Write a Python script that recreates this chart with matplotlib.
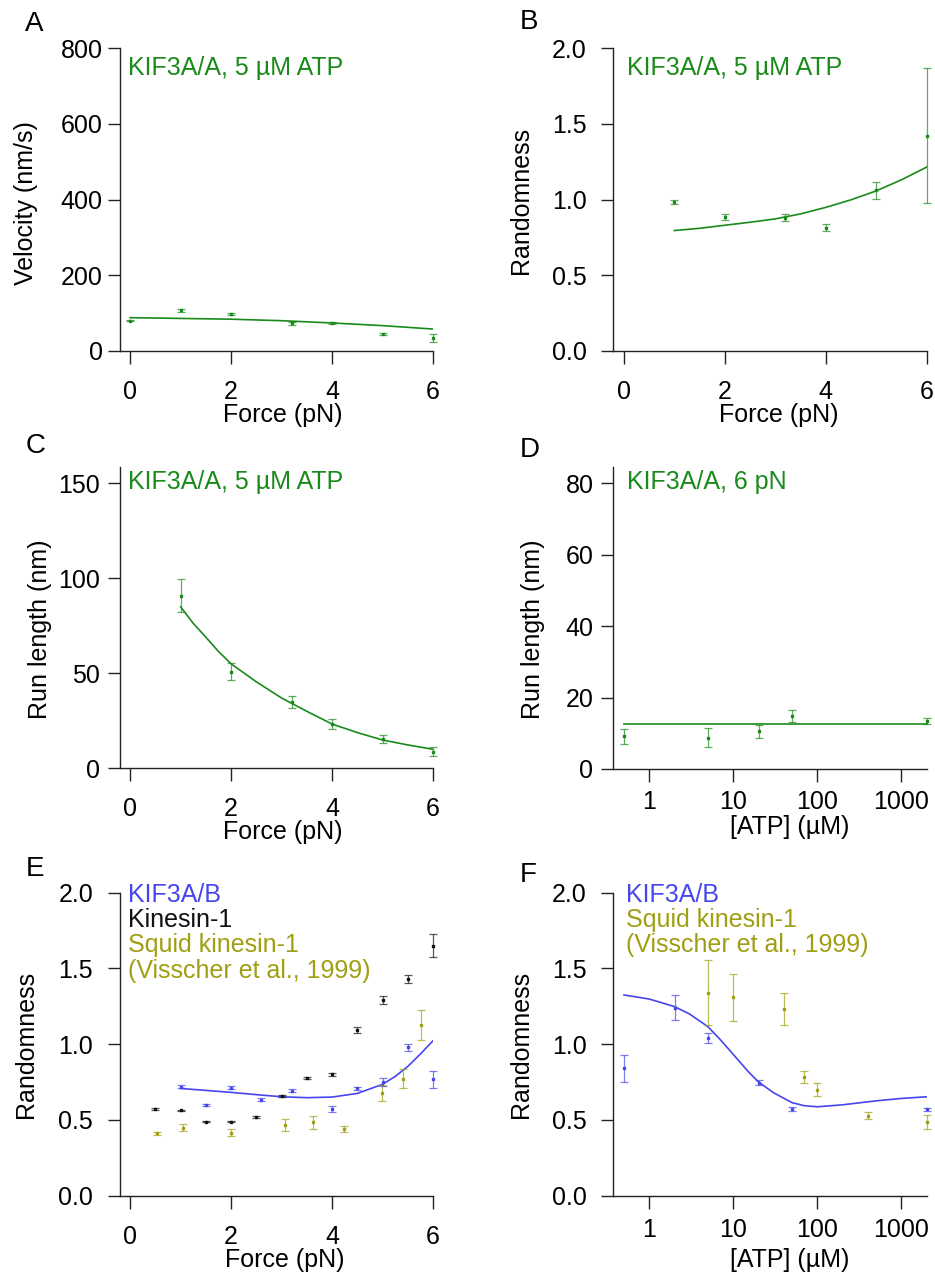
import matplotlib.pyplot as plt
from matplotlib.ticker import NullLocator

plt.rcParams['font.family'] = ['Liberation Sans', 'DejaVu Sans']
plt.rcParams['font.size'] = 18

W, H = 935, 1272
GREEN = '#1a8a1a'
BLUE = '#4646ee'
OLIVE = '#a09f14'
BLACK = '#111111'

# A: velocity vs force (KIF3A/A, 5 uM ATP)
a_force = [0, 1, 2, 3.2, 4, 5, 6]
a_vel = [80, 107, 97, 73, 73, 44, 35]
a_err = [2, 3, 3, 4, 3, 3, 11]
a_fit_x = [0, 1, 2, 3, 4, 5, 6]
a_fit_y = [88, 86, 84, 80, 74, 67, 58]

# B: randomness vs force (KIF3A/A)
b_force = [1, 2, 3.2, 4, 5, 6]
b_rand = [0.982, 0.883, 0.881, 0.815, 1.06, 1.42]
b_err = [0.015, 0.02, 0.025, 0.025, 0.056, 0.445]
b_fit_x = [1, 1.5, 2, 2.5, 3, 3.5, 4, 4.5, 5, 5.5, 6]
b_fit_y = [0.795, 0.81, 0.83, 0.85, 0.872, 0.905, 0.948, 0.998, 1.057, 1.13, 1.214]

# C: run length vs force (KIF3A/A)
c_force = [1, 2, 3.2, 4, 5, 6]
c_run = [90.9, 50.9, 35.1, 23.3, 15.6, 8.8]
c_err = [8.6, 4.6, 3.2, 2.4, 2.1, 2.5]
c_fit_x = [1, 1.25, 1.5, 1.75, 2, 2.5, 3, 3.5, 4, 4.5, 5, 5.5, 6]
c_fit_y = [85, 76.3, 69, 61.5, 55, 45.5, 37, 30, 23.3, 18.8, 14.9, 12.3, 10.0]

# D: run length vs ATP (KIF3A/A, 6 pN)
d_atp = [0.5, 5, 20, 50, 2000]
d_run = [9.1, 8.8, 10.6, 14.8, 13.5]
d_err = [2.2, 2.6, 1.8, 1.7, 0.8]
d_fit_x = [0.5, 2000]
d_fit_y = [12.6, 12.6]

# E: randomness vs force, three motors
e_kb_force = [1, 1.5, 2, 2.6, 3.2, 4, 4.5, 5, 5.5, 6]
e_kb_rand = [0.719, 0.598, 0.713, 0.634, 0.693, 0.570, 0.708, 0.752, 0.979, 0.768]
e_kb_err = [0.01, 0.006, 0.012, 0.01, 0.01, 0.02, 0.012, 0.027, 0.025, 0.055]
e_k1_force = [0.5, 1, 1.5, 2, 2.5, 3, 3.5, 4, 4.5, 5, 5.5, 6]
e_k1_rand = [0.572, 0.563, 0.488, 0.488, 0.519, 0.660, 0.777, 0.803, 1.091, 1.292, 1.430, 1.650]
e_k1_err = [0.004, 0.004, 0.004, 0.004, 0.006, 0.006, 0.008, 0.01, 0.02, 0.025, 0.025, 0.075]
e_sq_force = [0.53, 1.05, 2.0, 3.07, 3.63, 4.23, 4.99, 5.41, 5.76]
e_sq_rand = [0.411, 0.449, 0.416, 0.464, 0.484, 0.442, 0.680, 0.772, 1.129]
e_sq_err = [0.01, 0.025, 0.025, 0.04, 0.045, 0.02, 0.052, 0.063, 0.10]
e_fit_x = [1, 1.5, 2, 2.5, 3, 3.5, 4, 4.5, 5, 5.25, 5.5, 5.75, 6]
e_fit_y = [0.708, 0.695, 0.682, 0.667, 0.653, 0.647, 0.651, 0.675, 0.735, 0.787, 0.853, 0.935, 1.023]

# F: randomness vs ATP
f_kb_atp = [0.5, 2, 5, 20, 50, 2000]
f_kb_rand = [0.840, 1.241, 1.041, 0.746, 0.574, 0.570]
f_kb_err = [0.092, 0.081, 0.035, 0.015, 0.012, 0.012]
f_sq_atp = [5, 10, 40, 70, 100, 400, 2000]
f_sq_rand = [1.34, 1.31, 1.234, 0.783, 0.700, 0.528, 0.488]
f_sq_err = [0.213, 0.155, 0.106, 0.042, 0.045, 0.025, 0.045]
f_fit_x = [0.5, 1, 2, 3, 5, 7, 10, 15, 20, 30, 50, 70, 100, 200, 500, 1000, 2000]
f_fit_y = [1.325, 1.298, 1.248, 1.2, 1.115, 1.03, 0.932, 0.82, 0.75, 0.68, 0.614, 0.594, 0.587,
           0.60, 0.626, 0.642, 0.653]


fig = plt.figure(figsize=(W / 100, H / 100), dpi=100)


def fx(x):
    return x / W


def fy(y):
    return 1 - y / H


def make_ax(left, top, right, bottom):
    return fig.add_axes([fx(left), fy(bottom), (right - left) / W, (bottom - top) / H])


def style(ax, xpad, ypad):
    for s in ['top', 'right']:
        ax.spines[s].set_visible(False)
    for s in ['left', 'bottom']:
        ax.spines[s].set_linewidth(1.0)
        ax.spines[s].set_color('#222222')
    ax.tick_params(direction='out', length=9, width=1.0, color='#222222', labelsize=18)
    ax.tick_params(axis='x', pad=xpad)
    ax.tick_params(axis='y', pad=ypad)
    ax.xaxis.set_minor_locator(NullLocator())
    ax.yaxis.set_minor_locator(NullLocator())


def points(ax, x, y, err, color):
    cont = ax.errorbar(x, y, yerr=err, fmt='none', ecolor=color, elinewidth=0.9,
                       capsize=2.6, capthick=0.9, alpha=0.7, zorder=3)
    for art in cont.get_children():
        art.set_clip_on(False)
    ax.plot(x, y, 's', ms=1.6, color=color, clip_on=False, zorder=4)


def labels(ax, xl, xpos, yl, ypos):
    ax.set_xlabel(xl, fontsize=18)
    ax.xaxis.set_label_coords(fx(xpos[0]), fy(xpos[1]), transform=fig.transFigure)
    ax.set_ylabel(yl, fontsize=18, va='center', ha='center')
    ax.yaxis.set_label_coords(fx(ypos[0]), fy(ypos[1]), transform=fig.transFigure)


def ftext(x, y, s, color, size=18):
    fig.text(fx(x), fy(y), s, color=color, fontsize=size, ha='left', va='baseline')


def force_axis(ax):
    ax.set_xlim(-0.21, 6)
    ax.set_xticks([0, 2, 4, 6])


def atp_axis(ax):
    ax.set_xscale('log')
    ax.set_xlim(0.373, 2000)
    ax.set_xticks([1, 10, 100, 1000], ['1', '10', '100', '1000'])
    ax.xaxis.set_minor_locator(NullLocator())


# Panel A
ax = make_ax(119.5, 48, 433, 351)
ax.plot(a_fit_x, a_fit_y, color=GREEN, lw=1.2, zorder=2)
points(ax, a_force, a_vel, a_err, GREEN)
force_axis(ax)
ax.set_ylim(0, 800)
ax.set_yticks([0, 200, 400, 600, 800])
style(ax, 12, 3)
labels(ax, 'Force (pN)', (283, 403), 'Velocity (nm/s)', (26.5, 203.5))
ftext(128, 75, 'KIF3A/A, 5 µM ATP', GREEN)

# Panel B
ax = make_ax(613.3, 48, 926.7, 351)
ax.plot(b_fit_x, b_fit_y, color=GREEN, lw=1.2, zorder=2)
points(ax, b_force, b_rand, b_err, GREEN)
force_axis(ax)
ax.set_ylim(0, 2.0)
ax.set_yticks([0, 0.5, 1.0, 1.5, 2.0], ['0.0', '0.5', '1.0', '1.5', '2.0'])
style(ax, 12, 10)
labels(ax, 'Force (pN)', (778.5, 403), 'Randomness', (520.5, 200))
ftext(626.7, 75, 'KIF3A/A, 5 µM ATP', GREEN)

# Panel C
ax = make_ax(119.5, 466.7, 433, 768.3)
ax.plot(c_fit_x, c_fit_y, color=GREEN, lw=1.2, zorder=2)
points(ax, c_force, c_run, c_err, GREEN)
force_axis(ax)
ax.set_ylim(0, 158.7)
ax.set_yticks([0, 50, 100, 150])
style(ax, 12, 5)
labels(ax, 'Force (pN)', (283, 820), 'Run length (nm)', (40.5, 629))
ftext(128, 489, 'KIF3A/A, 5 µM ATP', GREEN)

# Panel D
ax = make_ax(613.3, 466.7, 926.7, 769)
ax.plot(d_fit_x, d_fit_y, color=GREEN, lw=1.2, zorder=2, clip_on=False)
points(ax, d_atp, d_run, d_err, GREEN)
atp_axis(ax)
ax.set_ylim(0, 84.6)
ax.set_yticks([0, 20, 40, 60, 80])
style(ax, 6, 5.3)
labels(ax, '[ATP] (µM)', (790, 815), 'Run length (nm)', (533, 629))
ftext(626.7, 489, 'KIF3A/A, 6 pN', GREEN)

# Panel E
ax = make_ax(119.5, 892.7, 433, 1195.7)
ax.plot(e_fit_x, e_fit_y, color=BLUE, lw=1.2, zorder=2)
points(ax, e_k1_force, e_k1_rand, e_k1_err, BLACK)
points(ax, e_sq_force, e_sq_rand, e_sq_err, OLIVE)
points(ax, e_kb_force, e_kb_rand, e_kb_err, BLUE)
force_axis(ax)
ax.set_ylim(0, 2.0)
ax.set_yticks([0, 0.5, 1.0, 1.5, 2.0], ['0.0', '0.5', '1.0', '1.5', '2.0'])
style(ax, 12, 10)
labels(ax, 'Force (pN)', (285, 1248), 'Randomness', (26.5, 1044))
ftext(128, 902.3, 'KIF3A/B', BLUE)
ftext(128, 927.3, 'Kinesin-1', BLACK)
ftext(128, 952.3, 'Squid kinesin-1', OLIVE)
ftext(128, 978.3, '(Visscher et al., 1999)', OLIVE)

# Panel F
ax = make_ax(613.3, 892.7, 926.7, 1195.7)
ax.plot(f_fit_x, f_fit_y, color=BLUE, lw=1.2, zorder=2)
points(ax, f_sq_atp, f_sq_rand, f_sq_err, OLIVE)
points(ax, f_kb_atp, f_kb_rand, f_kb_err, BLUE)
atp_axis(ax)
ax.set_ylim(0, 2.0)
ax.set_yticks([0, 0.5, 1.0, 1.5, 2.0], ['0.0', '0.5', '1.0', '1.5', '2.0'])
style(ax, 7, 10)
labels(ax, '[ATP] (µM)', (790, 1248), 'Randomness', (520.5, 1044))
ftext(626, 901.7, 'KIF3A/B', BLUE)
ftext(626, 926.7, 'Squid kinesin-1', OLIVE)
ftext(626, 951.7, '(Visscher et al., 1999)', OLIVE)

# panel letters
for letter, x, y in [('A', 25, 31), ('B', 520, 29), ('C', 26, 453),
                     ('D', 520, 457), ('E', 26, 876), ('F', 520, 882)]:
    ftext(x, y, letter, 'black', size=20)

fig.savefig('out.png', dpi=100)
